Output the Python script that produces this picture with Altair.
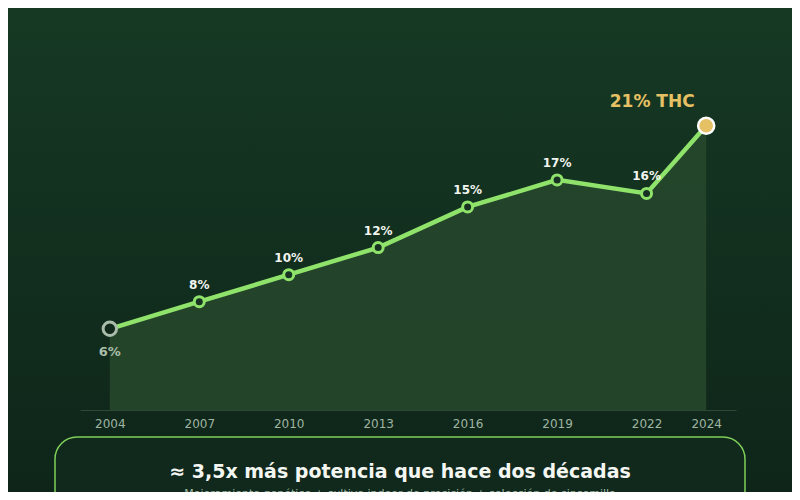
import altair as alt
import pandas as pd

years = [2004, 2007, 2010, 2013, 2016, 2019, 2022, 2024]
thc = [6, 8, 10, 12, 15, 17, 16, 21]
labels = ["6%", "8%", "10%", "12%", "15%", "17%", "16%", "21% THC"]

df = pd.DataFrame({"year": years, "thc": thc, "label": labels})
df["kind"] = ["first"] + ["mid"] * 6 + ["last"]

X = alt.X("year:Q", scale=alt.Scale(domain=[2003, 2025], nice=False),
          axis=alt.Axis(values=years, format="d", title=None, grid=False, ticks=False,
                        labelColor="#9fb5a2", labelFontSize=12, labelPadding=8,
                        domainColor="#2c4a34", labelFont="DejaVu Sans", zindex=1))
Y = alt.Y("thc:Q", scale=alt.Scale(domain=[0, 28], nice=False), axis=None)

bg = alt.Chart(pd.DataFrame({"a": [0]})).mark_rect(
    color=alt.Gradient(gradient="linear", x1=0, y1=0, x2=0, y2=1,
                       stops=[alt.GradientStop(color="#163a24", offset=0),
                              alt.GradientStop(color="#0e2419", offset=1)])
).encode(x=alt.value(-80), x2=alt.value(740), y=alt.value(-40), y2=alt.value(480))

base = alt.Chart(df)
area = base.mark_area(color="#26472b", opacity=0.9).encode(x=X, y=Y)
line = base.mark_line(color="#8fe36b", strokeWidth=4.5).encode(x=X, y=Y)
mid = base.transform_filter("datum.kind=='mid'").mark_point(
    filled=True, fill="#173222", stroke="#8fe36b", strokeWidth=3, size=100, opacity=1).encode(x=X, y=Y)
first = base.transform_filter("datum.kind=='first'").mark_point(
    filled=True, fill="#122a1c", stroke="#a9bdaa", strokeWidth=3, size=180, opacity=1).encode(x=X, y=Y)
last = base.transform_filter("datum.kind=='last'").mark_point(
    filled=True, fill="#e6c064", stroke="#ffffff", strokeWidth=2.5, size=260, opacity=1).encode(x=X, y=Y)
tmid = base.transform_filter("datum.kind=='mid'").mark_text(
    color="#f2f5f0", fontSize=12, fontWeight="bold", dy=-17, font="DejaVu Sans").encode(x=X, y=Y, text="label:N")
tfirst = base.transform_filter("datum.kind=='first'").mark_text(
    color="#a9bdaa", fontSize=13, fontWeight="bold", dy=23, font="DejaVu Sans").encode(x=X, y=Y, text="label:N")
tlast = base.transform_filter("datum.kind=='last'").mark_text(
    color="#e6c064", fontSize=17, fontWeight="bold", dx=-54, dy=-24, font="DejaVu Sans").encode(x=X, y=Y, text="label:N")

box = alt.Chart(pd.DataFrame({"a": [0]})).mark_rect(
    fill="#10291c", stroke="#7fcf5a", strokeWidth=1.5, cornerRadius=22
).encode(x=alt.value(-25), x2=alt.value(665), y=alt.value(406), y2=alt.value(520))
title = alt.Chart(pd.DataFrame({"t": ["≈ 3,5x más potencia que hace dos décadas"]})).mark_text(
    color="#f4f6f2", fontSize=19, fontWeight="bold", font="DejaVu Sans"
).encode(x=alt.value(320), y=alt.value(441), text="t:N")
sub = alt.Chart(pd.DataFrame({"t": ["Mejoramiento genético + cultivo indoor de precisión + selección de sinsemilla"]})).mark_text(
    color="#9fb5a2", fontSize=11, font="DejaVu Sans"
).encode(x=alt.value(320), y=alt.value(463), text="t:N")

chart = alt.layer(bg, area, line, first, mid, last, tmid, tfirst, tlast, box, title, sub).properties(
    width=656, height=379, autosize=alt.AutoSizeParams(type="none"),
    padding={"left": 72, "top": 23, "right": 56, "bottom": 82},
    background="#12301f"
).configure_view(stroke=None)

chart.save("out.html", embed_options={"renderer": "svg", "actions": False})
